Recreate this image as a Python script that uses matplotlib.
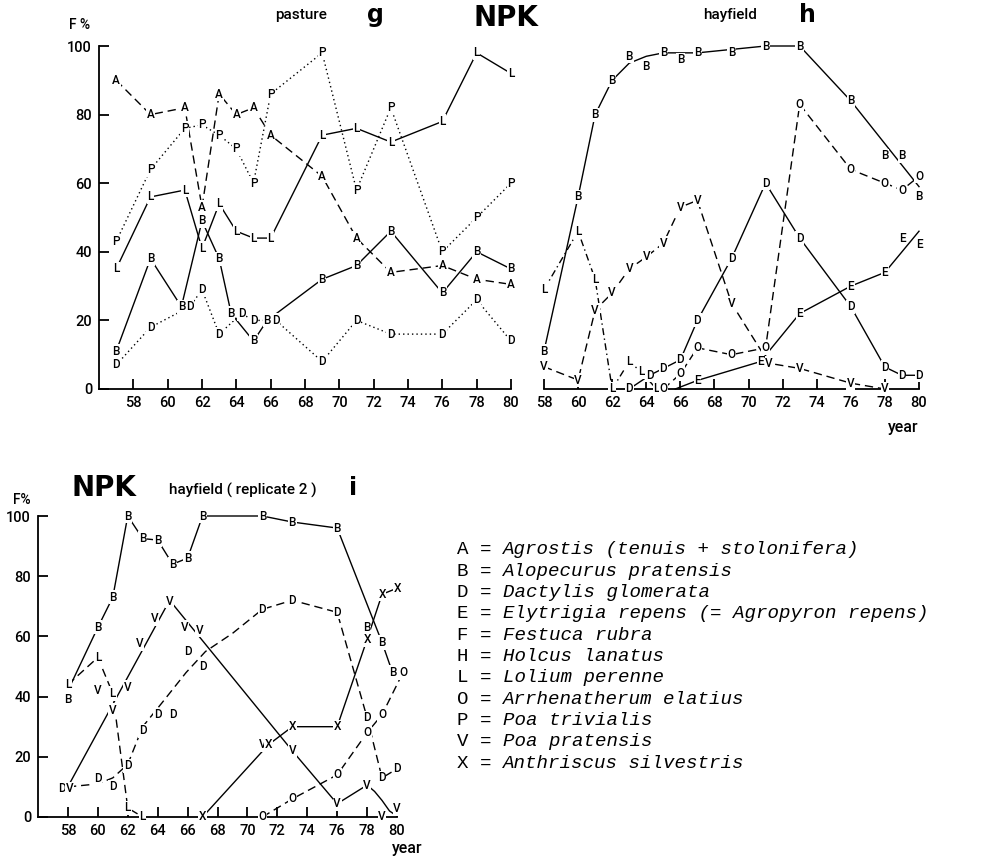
import matplotlib
matplotlib.use('Agg')
import matplotlib.pyplot as plt

# ---------------------------------------------------------------------------
# data: pasture (g)
# ---------------------------------------------------------------------------
g_A_yr = [57, 59, 61, 62, 63, 64, 65, 66, 69, 71, 73, 76, 78, 80]
g_A = [90, 80, 82, 53, 86, 80, 82, 74, 62, 44, 34, 36, 32, 30.5]
g_P_yr = [57, 59, 61, 62, 63, 64, 65, 66, 69, 71, 73, 76, 78, 80]
g_P = [43, 64, 76, 77, 74, 70, 60, 86, 98, 58, 82, 40, 50, 60]
g_L_yr = [57, 59, 61, 62, 63, 64, 65, 66, 69, 71, 73, 76, 78, 80]
g_L = [35, 56, 58, 41, 54, 46, 44, 44, 74, 76, 72, 78, 98, 92]
g_B_yr = [57, 59, 60.8, 62, 63, 63.7, 65, 65.8, 69, 71, 73, 76, 78, 80]
g_B = [11, 38, 24, 49, 38, 22, 14, 20, 32, 36, 46, 28, 40, 35]
g_D_yr = [57, 59, 61.3, 62, 63, 64.3, 65, 66.3, 69, 71, 73, 76, 78, 80]
g_D = [7, 18, 24, 29, 16, 22, 20, 20, 8, 20, 16, 16, 26, 14]

# ---------------------------------------------------------------------------
# data: hayfield (h)
# ---------------------------------------------------------------------------
h_B_yr = [58, 60, 61, 62, 63, 64, 65, 66, 67, 69, 71, 73, 76, 78, 79, 80]
h_B = [11, 56, 80, 90, 97, 94, 98, 96, 98, 98, 100, 100, 84, 68, 68, 56]
h_B_line_yr = [58, 60, 61, 62, 63, 64, 65, 66, 67, 69, 71, 73, 76, 80]
h_B_line = [11, 56, 80, 90, 95, 97, 98, 98, 98, 99, 100, 100, 84, 59]
h_L_yr = [58, 60, 61, 62, 63, 63.7, 64.6]
h_L = [29, 46, 32, 0, 8, 5, 0]
h_V_yr = [58, 60, 61, 62, 63, 64, 65, 66, 67, 69, 71.2, 73, 76, 78]
h_V = [6.5, 2.6, 23, 28, 35, 38.5, 42.5, 53, 55, 25, 7.5, 6, 1.7, 0]
h_D_yr = [63, 64.2, 65, 66, 67, 69, 71, 73, 76, 78, 79, 80]
h_D = [0, 4, 6, 8.5, 20, 38, 60, 44, 24, 6.4, 4, 4]
h_O_yr = [65, 66, 67, 69, 71, 73, 76, 78, 79, 80]
h_O = [0, 4.4, 12, 10, 12, 83, 64, 60, 58, 62]
h_E_yr = [67, 70.7, 73, 76, 78, 79, 80]
h_E = [2.5, 8, 22, 30, 34, 44, 42]
h_E_line_yr = [65.7, 67, 70.7, 73, 76, 78, 80]
h_E_line = [0, 2.5, 8, 22, 30, 34, 46]

# ---------------------------------------------------------------------------
# data: hayfield replicate 2 (i)
# ---------------------------------------------------------------------------
i_B_yr = [58, 60, 61, 62, 63, 64, 65, 66, 67, 71, 73, 76, 78, 79, 79.7]
i_B = [39, 63, 73, 100, 92.5, 92, 84, 86, 100, 100, 98, 96, 63, 58, 48]
i_B_line_yr = [58, 60, 61, 62, 63, 64, 65, 66, 67, 71, 73, 76, 79, 79.7]
i_B_line = [42, 63, 73, 100, 92.5, 92, 84, 86, 100, 100, 98, 96, 58, 48]
i_D_yr = [57.6, 60, 61, 62, 63, 64, 65, 66, 67, 71, 73, 76, 78, 79, 80]
i_D = [9.4, 12.8, 10, 17, 28.7, 34, 34, 55, 50, 69, 72, 68, 33, 13, 16]
i_D_line_yr = [58, 60, 61, 62, 63, 64.3, 65.9, 67.2, 69, 71, 73, 76, 78, 79, 80]
i_D_line = [10, 11, 13, 17.5, 30, 38, 48, 55, 61, 69, 72, 68, 33, 13, 16]
i_V_yr = [58.1, 60, 61, 62, 62.8, 63.8, 64.8, 65.8, 66.8, 71, 73, 76, 78, 79, 80]
i_V = [9.4, 42, 35.5, 43, 57.6, 65.8, 71.7, 63, 62, 24, 22, 4.4, 10.6, 0, 2.8]
i_V_line_yr = [58.1, 64.8, 73, 76, 78, 78.5, 79, 79.5, 80]
i_V_line = [11, 72, 22, 4.4, 10.6, 8.5, 5.5, 2, 0.3]
i_L_yr = [58, 60, 61, 62, 63]
i_L = [44, 53, 41, 3, 0]
i_X_yr = [67, 71.4, 73, 76, 78, 79, 80]
i_X = [0, 24, 30, 30, 59, 74, 76]
i_O_yr = [71, 73, 76, 78, 79, 80.4]
i_O = [0, 6, 14, 28, 34, 48]

legend_codes = ['A', 'B', 'D', 'E', 'F', 'H', 'L', 'O', 'P', 'V', 'X']
legend_names = ['Agrostis (tenuis + stolonifera)', 'Alopecurus pratensis',
                'Dactylis glomerata', 'Elytrigia repens (= Agropyron repens)',
                'Festuca rubra', 'Holcus lanatus', 'Lolium perenne',
                'Arrhenatherum elatius', 'Poa trivialis', 'Poa pratensis',
                'Anthriscus silvestris']

SOLID = '-'
DOTTED = (0, (1, 2.2))
DASHED = (0, (6, 3.5))
DASHDOT = (0, (5, 2.5, 1, 2.5))

W, H = 987, 857
fig = plt.figure(figsize=(W / 100, H / 100), dpi=100)


def px_axes(x0, x1, y_top, y_bot):
    return fig.add_axes([x0 / W, 1 - y_bot / H, (x1 - x0) / W, (y_bot - y_top) / H])


def ftext(x, y, s, **kw):
    fig.text(x / W, 1 - y / H, s, ha='center', va='center', **kw)


def style_axes(ax, x0, yaxis=True):
    ax.set_xlim(x0, 80)
    ax.set_ylim(0, 100)
    ax.patch.set_alpha(0)
    for side in ['top', 'right']:
        ax.spines[side].set_visible(False)
    ax.spines['left'].set_visible(yaxis)
    for side in ['left', 'bottom']:
        ax.spines[side].set_linewidth(1.3)
    ax.set_xticks(range(58, 81, 2))
    if yaxis:
        ax.set_yticks(range(0, 101, 20))
    else:
        ax.set_yticks([])
    ax.tick_params(direction='in', length=7, width=1.3, pad=5)
    for lab in ax.get_xticklabels() + ax.get_yticklabels():
        lab.set_fontfamily('Roboto')
        lab.set_fontweight('medium')
        lab.set_fontsize(10.5)


def series(ax, yrs, vals, letter, ls, line_yrs=None, line_vals=None):
    lx = yrs if line_yrs is None else line_yrs
    ly = vals if line_vals is None else line_vals
    ax.plot(lx, ly, color='black', lw=1.0, ls=ls, clip_on=False, zorder=2,
            dash_capstyle='butt')
    for x, y in zip(yrs, vals):
        ax.text(x, y, letter, ha='center', va='center', fontsize=8.5,
                family='Roboto', fontweight='medium', zorder=3, clip_on=False,
                bbox=dict(boxstyle='square,pad=0.05', fc='white', ec='none'))


# --- g: pasture
ax_g = px_axes(99, 511, 46, 389)
style_axes(ax_g, 56)
series(ax_g, g_A_yr, g_A, 'A', DASHED)
series(ax_g, g_P_yr, g_P, 'P', DOTTED)
series(ax_g, g_L_yr, g_L, 'L', SOLID)
series(ax_g, g_B_yr, g_B, 'B', SOLID)
series(ax_g, g_D_yr, g_D, 'D', DOTTED)

# --- h: hayfield
ax_h = px_axes(544, 919, 46, 389)
style_axes(ax_h, 58, yaxis=False)
series(ax_h, h_B_yr, h_B, 'B', SOLID, h_B_line_yr, h_B_line)
series(ax_h, h_L_yr, h_L, 'L', DASHDOT)
series(ax_h, h_V_yr, h_V, 'V', DASHED)
series(ax_h, h_D_yr, h_D, 'D', SOLID)
series(ax_h, h_O_yr, h_O, 'O', DASHED)
series(ax_h, h_E_yr, h_E, 'E', SOLID, h_E_line_yr, h_E_line)

# --- i: hayfield replicate 2
ax_i = px_axes(38, 397, 516, 817)
style_axes(ax_i, 56)
series(ax_i, i_B_yr, i_B, 'B', SOLID, i_B_line_yr, i_B_line)
series(ax_i, i_D_yr, i_D, 'D', DASHED, i_D_line_yr, i_D_line)
series(ax_i, i_V_yr, i_V, 'V', SOLID, i_V_line_yr, i_V_line)
series(ax_i, i_L_yr, i_L, 'L', DASHED)
series(ax_i, i_X_yr, i_X, 'X', SOLID)
series(ax_i, i_O_yr, i_O, 'O', DASHED)

# --- headings
ftext(80, 25, 'F %', fontsize=10, family='Roboto', fontweight='medium')
ftext(301, 15, 'pasture', fontsize=11, family='Roboto', fontweight='medium')
ftext(375, 15, 'g', fontsize=17, fontweight='bold')
ftext(506, 18, 'NPK', fontsize=20, fontweight='bold')
ftext(730, 15, 'hayfield', fontsize=11, family='Roboto', fontweight='medium')
ftext(807, 15, 'h', fontsize=17, fontweight='bold')
ftext(903, 427, 'year', fontsize=11.5, family='Roboto', fontweight='medium')

ftext(104, 488, 'NPK', fontsize=20, fontweight='bold')
ftext(243, 490, 'hayfield ( replicate 2 )', fontsize=11, family='Roboto',
      fontweight='medium')
ftext(353, 488, 'i', fontsize=17, fontweight='bold')
ftext(22, 500, 'F%', fontsize=10, family='Roboto', fontweight='medium')
ftext(407, 848, 'year', fontsize=11.5, family='Roboto', fontweight='medium')

# --- species key
char_w = 11.5
for k, (code, name) in enumerate(zip(legend_codes, legend_names)):
    y = 550 + k * 21.3
    fig.text(457 / W, 1 - y / H, f'{code} =', family='Liberation Mono',
             fontsize=13.8, ha='left', va='center')
    fig.text((457 + 4 * char_w) / W, 1 - y / H, name, family='Liberation Mono',
             style='italic', fontsize=13.8, ha='left', va='center')

fig.savefig('out.png', dpi=100)
